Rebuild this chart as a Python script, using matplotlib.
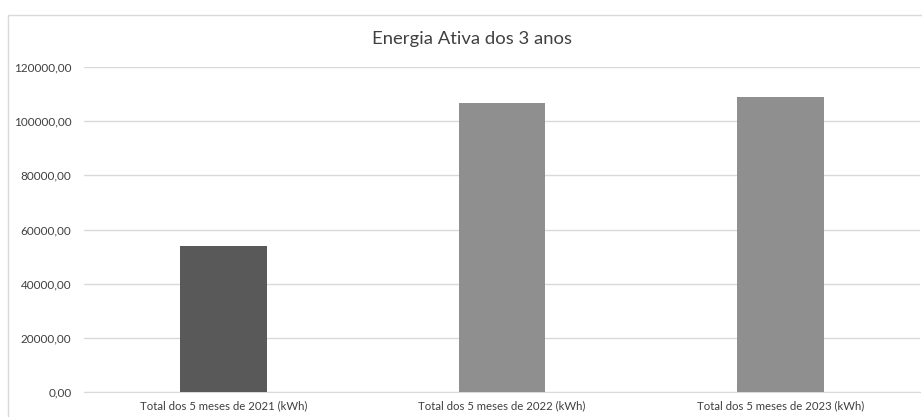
import matplotlib
matplotlib.use("Agg")
from matplotlib import pyplot as plt
from matplotlib.patches import Rectangle

categories = [
    "Total dos 5 meses de 2021 (kWh)",
    "Total dos 5 meses de 2022 (kWh)",
    "Total dos 5 meses de 2023 (kWh)",
]
energia = [53900, 106700, 109100]
bar_colors = ["#595959", "#8f8f8f", "#8f8f8f"]
y_ticks = [0, 20000, 40000, 60000, 80000, 100000, 120000]

plt.rcParams["font.family"] = ["Lato", "DejaVu Sans"]

W, H = 922, 417
fig = plt.figure(figsize=(W / 100, H / 100), dpi=100)

# chart frame
fig.patches.append(Rectangle((8 / W, -0.1), 1.2, (H - 15) / H + 0.1,
                             transform=fig.transFigure, fill=False,
                             edgecolor="#d9d9d9", linewidth=1))

ax = fig.add_axes([84 / W, (H - 392) / H, (920 - 84) / W, (392 - 67) / H])
x = range(len(categories))
ax.bar(x, energia, width=0.31, color=bar_colors, zorder=3)

ax.set_ylim(0, 120000)
ax.set_xlim(-0.5, len(categories) - 0.5)
ax.set_yticks(y_ticks)
ax.set_yticklabels([f"{v:.2f}".replace(".", ",") for v in y_ticks],
                   fontsize=8.5, color="#404040")
ax.set_xticks(list(x))
ax.set_xticklabels(categories, fontsize=8.2, color="#404040")
ax.tick_params(axis="y", length=0, pad=9)
ax.tick_params(axis="x", length=0, pad=6)
ax.grid(axis="y", color="#d9d9d9", linewidth=1, zorder=0)
for s in ["top", "right", "left"]:
    ax.spines[s].set_visible(False)
ax.spines["bottom"].set_color("#d9d9d9")

fig.text(472 / W, 1 - 39 / H, "Energia Ativa dos 3 anos", ha="center",
         va="center", fontsize=13.3, color="#404040")

fig.savefig("out.png", dpi=100)
